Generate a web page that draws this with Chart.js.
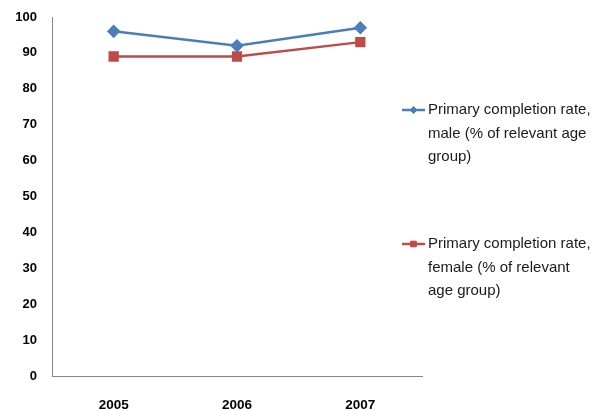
<!DOCTYPE html>
<html>
<head>
<meta charset="utf-8">
<script src="https://cdn.jsdelivr.net/npm/chart.js@4/dist/chart.umd.min.js"></script>
<style>
  html, body { margin: 0; padding: 0; background: #fff; }
  #wrap { position: relative; width: 603px; height: 411px; }
</style>
</head>
<body>
<div id="wrap"><canvas id="c"></canvas></div>
<script>
// Primary completion rate by year (% of relevant age group)
const years = ['2005', '2006', '2007'];
const maleRate = [96, 92, 97];
const femaleRate = [89, 89, 93];
const yTicks = [0, 10, 20, 30, 40, 50, 60, 70, 80, 90, 100];

// Legend entries, already broken into lines
const maleLegend = ['Primary completion rate,', 'male (% of relevant age', 'group)'];
const femaleLegend = ['Primary completion rate,', 'female (% of relevant', 'age group)'];

const BLUE = '#4a7ebb';
const RED = '#be4b48';

// Draws the wrapped legend to the right of the plot
const sideLegend = {
  id: 'sideLegend',
  afterDraw(chart) {
    const ctx = chart.ctx;
    const entries = [
      { ds: chart.data.datasets[0], lines: maleLegend, y: 110 },
      { ds: chart.data.datasets[1], lines: femaleLegend, y: 244 }
    ];
    ctx.save();
    entries.forEach(e => {
      ctx.strokeStyle = e.ds.borderColor;
      ctx.fillStyle = e.ds.backgroundColor;
      ctx.lineWidth = 2.5;
      ctx.beginPath();
      ctx.moveTo(402, e.y);
      ctx.lineTo(425, e.y);
      ctx.stroke();
      ctx.lineWidth = 1;
      Chart.helpers.drawPoint(ctx, {
        pointStyle: e.ds.pointStyle,
        radius: e.ds.pointStyle === 'rect' ? 4 : 3.5,
        borderWidth: 1
      }, 413.5, e.y);
      ctx.fillStyle = '#1a1a1a';
      ctx.font = '15px "Liberation Sans", Arial, sans-serif';
      ctx.textBaseline = 'middle';
      ctx.textAlign = 'left';
      e.lines.forEach((t, i) => ctx.fillText(t, 428, e.y + i * 23.5));
    });
    ctx.restore();
  }
};

new Chart(document.getElementById('c'), {
  type: 'line',
  data: {
    labels: years,
    datasets: [
      {
        label: maleLegend.join(' '),
        data: maleRate,
        borderColor: BLUE,
        backgroundColor: BLUE,
        borderWidth: 2.5,
        pointStyle: 'rectRot',
        pointRadius: 5,
        pointHoverRadius: 5,
        tension: 0
      },
      {
        label: femaleLegend.join(' '),
        data: femaleRate,
        borderColor: RED,
        backgroundColor: RED,
        borderWidth: 2.5,
        pointStyle: 'rect',
        pointRadius: 5.5,
        pointHoverRadius: 5.5,
        tension: 0
      }
    ]
  },
  options: {
    responsive: true,
    maintainAspectRatio: false,
    animation: false,
    events: [],
    layout: { padding: { top: 17, right: 181, left: 0, bottom: 0 } },
    plugins: {
      legend: { display: false },
      tooltip: { enabled: false }
    },
    scales: {
      x: {
        offset: true,
        grid: { display: false, drawTicks: false },
        border: { display: true, color: '#868686', width: 1 },
        ticks: {
          color: '#000',
          padding: 21,
          font: { family: '"Liberation Sans", Arial, sans-serif', size: 13.5, weight: 'bold' }
        },
        afterFit(scale) {
          scale.height = 35;
          scale.paddingLeft = 0;
          scale.paddingRight = 0;
        }
      },
      y: {
        min: 0,
        max: 100,
        grid: { display: false, drawTicks: false },
        border: { display: true, color: '#868686', width: 1 },
        afterBuildTicks(scale) { scale.ticks = yTicks.map(v => ({ value: v })); },
        ticks: {
          color: '#000',
          padding: 15,
          font: { family: '"Liberation Sans", Arial, sans-serif', size: 13, weight: 'bold' }
        },
        afterFit(scale) {
          scale.width = 52;
          scale.paddingTop = 0;
          scale.paddingBottom = 0;
        }
      }
    }
  },
  plugins: [sideLegend]
});
</script>
</body>
</html>
